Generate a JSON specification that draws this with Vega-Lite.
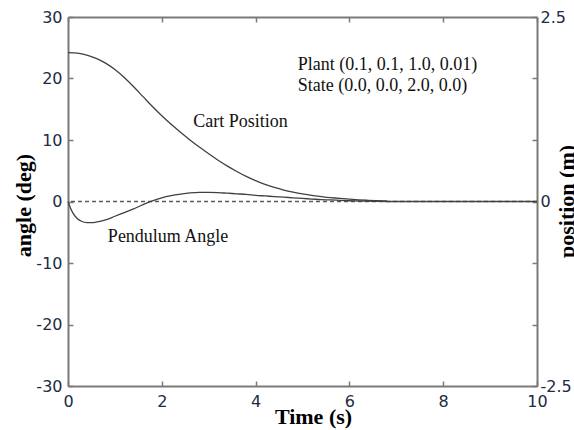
{
  "$schema": "https://vega.github.io/schema/vega-lite/v6.json",
  "width": 469,
  "height": 369,
  "autosize": {"type": "none"},
  "padding": {"left": 68, "top": 17, "right": 37, "bottom": 44},
  "background": "white",
  "config": {
    "view": {"stroke": null},
    "axis": {
      "domainColor": "#7a7a7a",
      "domainWidth": 2,
      "tickColor": "#7a7a7a",
      "tickWidth": 1.5,
      "tickSize": -5,
      "grid": false,
      "labelFont": "DejaVu Sans",
      "labelFontSize": 16,
      "labelColor": "#222a44",
      "labelFlush": false,
      "labelOverlap": false,
      "titleFont": "Liberation Serif",
      "titleFontSize": 22,
      "titleFontWeight": "bold",
      "titleColor": "#000000"
    }
  },
  "datasets": {
    "pend": [
      {"t": 0, "angle": 0}, {"t": 0.05, "angle": -1.0}, {"t": 0.1, "angle": -1.8}, {"t": 0.2, "angle": -2.8},
      {"t": 0.3, "angle": -3.25}, {"t": 0.4, "angle": -3.42}, {"t": 0.5, "angle": -3.45}, {"t": 0.6, "angle": -3.35},
      {"t": 0.8, "angle": -3.0}, {"t": 1.0, "angle": -2.4}, {"t": 1.2, "angle": -1.8}, {"t": 1.4, "angle": -1.2},
      {"t": 1.6, "angle": -0.5}, {"t": 1.8, "angle": 0.1}, {"t": 2.0, "angle": 0.6}, {"t": 2.2, "angle": 0.95},
      {"t": 2.4, "angle": 1.2}, {"t": 2.6, "angle": 1.4}, {"t": 2.8, "angle": 1.5}, {"t": 3.0, "angle": 1.5},
      {"t": 3.2, "angle": 1.45}, {"t": 3.4, "angle": 1.35}, {"t": 3.6, "angle": 1.25}, {"t": 3.8, "angle": 1.15},
      {"t": 4.0, "angle": 1.0}, {"t": 4.2, "angle": 0.9}, {"t": 4.4, "angle": 0.8}, {"t": 4.6, "angle": 0.7},
      {"t": 4.8, "angle": 0.6}, {"t": 5.0, "angle": 0.5}, {"t": 5.2, "angle": 0.4}, {"t": 5.4, "angle": 0.3},
      {"t": 5.6, "angle": 0.25}, {"t": 5.8, "angle": 0.18}, {"t": 6.0, "angle": 0.12}, {"t": 6.2, "angle": 0.08},
      {"t": 6.4, "angle": 0.05}, {"t": 6.6, "angle": 0.03}, {"t": 6.8, "angle": 0.0}, {"t": 8.0, "angle": 0.0},
      {"t": 10.0, "angle": 0.0}
    ],
    "cart": [
      {"t": 0, "pos": 2.017}, {"t": 0.2, "pos": 2.01}, {"t": 0.4, "pos": 1.985}, {"t": 0.6, "pos": 1.94},
      {"t": 0.8, "pos": 1.875}, {"t": 1.0, "pos": 1.788}, {"t": 1.2, "pos": 1.679}, {"t": 1.4, "pos": 1.554},
      {"t": 1.6, "pos": 1.421}, {"t": 1.8, "pos": 1.288}, {"t": 2.0, "pos": 1.163}, {"t": 2.2, "pos": 1.046},
      {"t": 2.4, "pos": 0.938}, {"t": 2.6, "pos": 0.833}, {"t": 2.8, "pos": 0.738}, {"t": 3.0, "pos": 0.646},
      {"t": 3.2, "pos": 0.56}, {"t": 3.4, "pos": 0.48}, {"t": 3.6, "pos": 0.407}, {"t": 3.8, "pos": 0.34},
      {"t": 4.0, "pos": 0.282}, {"t": 4.2, "pos": 0.232}, {"t": 4.4, "pos": 0.19}, {"t": 4.6, "pos": 0.155},
      {"t": 4.8, "pos": 0.127}, {"t": 5.0, "pos": 0.103}, {"t": 5.2, "pos": 0.083}, {"t": 5.4, "pos": 0.067},
      {"t": 5.6, "pos": 0.0525}, {"t": 5.8, "pos": 0.041}, {"t": 6.0, "pos": 0.031}, {"t": 6.2, "pos": 0.0225},
      {"t": 6.4, "pos": 0.016}, {"t": 6.6, "pos": 0.011}, {"t": 6.8, "pos": 0.0075}
    ],
    "notes": [
      {"t": 4.9, "angle": 22.2, "label": "Plant (0.1, 0.1, 1.0, 0.01)"},
      {"t": 4.9, "angle": 18.8, "label": "State (0.0, 0.0, 2.0, 0.0)"},
      {"t": 2.67, "angle": 13.0, "label": "Cart Position"},
      {"t": 0.85, "angle": -5.8, "label": "Pendulum Angle"}
    ],
    "reference": [
      {"angle": 0}
    ]
  },
  "layer": [
    {
      "layer": [
        {
          "data": {"name": "reference"},
          "mark": {"type": "rule", "strokeDash": [4, 3], "color": "#5a5a5a", "strokeWidth": 1.4},
          "encoding": {"y": {"field": "angle", "type": "quantitative"}}
        },
        {
          "data": {"name": "pend"},
          "mark": {"type": "line", "color": "#404040", "strokeWidth": 1.3, "interpolate": "monotone"},
          "encoding": {
            "x": {
              "field": "t", "type": "quantitative",
              "scale": {"domain": [0, 10], "nice": false},
              "axis": {"orient": "bottom", "values": [0, 2, 4, 6, 8, 10], "labelPadding": 12, "title": "Time (s)", "titleX": 245, "titleY": 37, "titleBaseline": "alphabetic", "titleAlign": "center"}
            },
            "y": {
              "field": "angle", "type": "quantitative",
              "scale": {"domain": [-30, 30], "nice": false},
              "axis": {"orient": "left", "values": [-30, -20, -10, 0, 10, 20, 30], "labelPadding": 11, "labelExpr": "datum.value < 0 ? '-' + abs(datum.value) : '' + datum.value", "title": "angle (deg)", "titleAngle": 270, "titleX": -38, "titleY": 188, "titleBaseline": "alphabetic", "titleAlign": "center"}
            }
          }
        },
        {
          "data": {"name": "notes"},
          "mark": {"type": "text", "align": "left", "baseline": "middle", "font": "Liberation Serif", "fontSize": 18, "color": "#111111"},
          "encoding": {
            "x": {"field": "t", "type": "quantitative"},
            "y": {"field": "angle", "type": "quantitative"},
            "text": {"field": "label"}
          }
        }
      ]
    },
    {
      "data": {"name": "cart"},
      "mark": {"type": "line", "color": "#404040", "strokeWidth": 1.3, "interpolate": "monotone"},
      "encoding": {
        "x": {
          "field": "t", "type": "quantitative",
          "scale": {"domain": [0, 10], "nice": false},
          "axis": {"orient": "top", "values": [0, 2, 4, 6, 8, 10], "labels": false, "title": null}
        },
        "y": {
          "field": "pos", "type": "quantitative",
          "scale": {"domain": [-2.5, 2.5], "nice": false},
          "axis": {"orient": "right", "values": [-2.5, -1.6667, -0.8333, 0, 0.8333, 1.6667, 2.5], "labelPadding": 8, "labelExpr": "datum.value > 2.4 ? '2.5' : datum.value < -2.4 ? '-2.5' : abs(datum.value) < 0.01 ? '0' : ''", "title": "position (m)", "titleAngle": 270, "titleX": 36, "titleY": 184, "titleBaseline": "alphabetic", "titleAlign": "center"}
        }
      }
    }
  ],
  "resolve": {"scale": {"y": "independent"}, "axis": {"x": "independent"}}
}
